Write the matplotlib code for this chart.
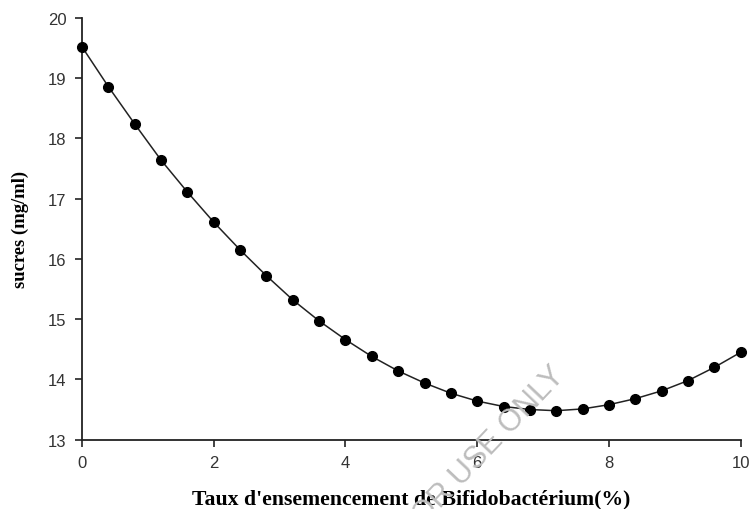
import matplotlib
matplotlib.use("Agg")
import matplotlib.pyplot as plt

# Taux d'ensemencement (%) et sucres résiduels (mg/ml)
taux = [0.0, 0.4, 0.8, 1.2, 1.6, 2.0, 2.4, 2.8, 3.2, 3.6, 4.0, 4.4, 4.8,
        5.2, 5.6, 6.0, 6.4, 6.8, 7.2, 7.6, 8.0, 8.4, 8.8, 9.2, 9.6, 10.0]
sucres = [19.52, 18.86, 18.24, 17.64, 17.11, 16.61, 16.15, 15.72, 15.32,
          14.97, 14.66, 14.38, 14.14, 13.94, 13.77, 13.64, 13.55, 13.50,
          13.48, 13.51, 13.58, 13.68, 13.81, 13.98, 14.20, 14.45]

xticks = [0, 2, 4, 6, 8, 10]
yticks = [13, 14, 15, 16, 17, 18, 19, 20]

fig = plt.figure(figsize=(7.52, 5.10), dpi=100)
ax = fig.add_axes([0.109, 0.136, 0.876, 0.827])

ax.plot(taux, sucres, color="#222222", linewidth=1.1, marker="o",
        markersize=7, markerfacecolor="black", markeredgecolor="black",
        clip_on=False, zorder=3)

ax.set_xlim(0, 10)
ax.set_ylim(13, 20)
ax.set_xticks(xticks)
ax.set_yticks(yticks)

for side in ["top", "right"]:
    ax.spines[side].set_visible(False)
for side in ["left", "bottom"]:
    ax.spines[side].set_linewidth(1.3)
    ax.spines[side].set_color("#222222")

ax.tick_params(direction="out", length=5, width=1.2, color="#222222",
               labelsize=12, labelcolor="#333333", pad=6)
for lbl in ax.get_xticklabels() + ax.get_yticklabels():
    lbl.set_fontfamily("Liberation Sans")

ax.set_xlabel("Taux d'ensemencement de Bifidobactérium(%)",
              fontfamily="Liberation Serif", fontweight="bold", fontsize=15.7)
ax.xaxis.set_label_coords(0.5, -0.139)
ax.xaxis.label.set_va("center")

ax.set_ylabel("sucres (mg/ml)", fontfamily="Liberation Serif",
              fontweight="bold", fontsize=13.4)
ax.yaxis.set_label_coords(-0.094, 0.5)
ax.yaxis.label.set_va("center")

# filigrane
fig.text(0.752, 0.262, "FOR USE ONLY", rotation=46.5, rotation_mode="anchor",
         ha="right", va="baseline", fontsize=22, color="#bdbdbd",
         fontfamily="Liberation Sans")

fig.savefig("out.png", dpi=100)
